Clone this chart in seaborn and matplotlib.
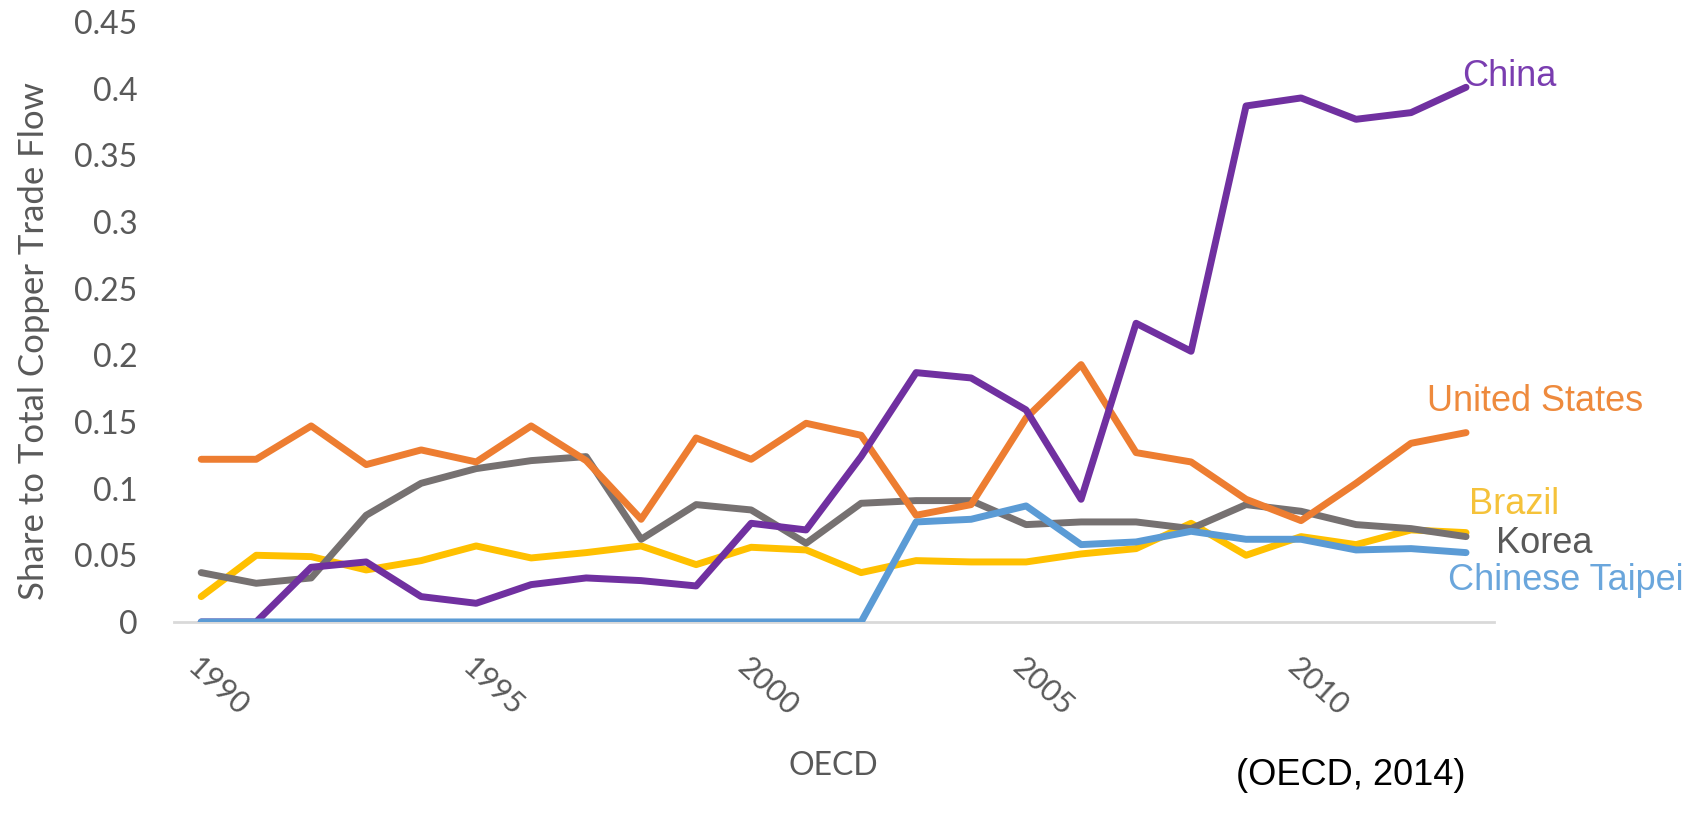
import pandas as pd
import matplotlib
matplotlib.use('Agg')
import matplotlib.pyplot as plt
import seaborn as sns

# values
years = list(range(1990, 2014))
china = [0.0, 0.0, 0.041, 0.045, 0.019, 0.014, 0.028, 0.033, 0.031, 0.027, 0.074, 0.069,
         0.124, 0.187, 0.183, 0.159, 0.092, 0.224, 0.203, 0.387, 0.393, 0.377, 0.382, 0.401]
united_states = [0.122, 0.122, 0.147, 0.118, 0.129, 0.120, 0.147, 0.121, 0.077, 0.138, 0.122, 0.149,
                 0.140, 0.080, 0.088, 0.153, 0.193, 0.127, 0.120, 0.092, 0.076, 0.104, 0.134, 0.142]
brazil = [0.019, 0.050, 0.049, 0.039, 0.046, 0.057, 0.048, 0.052, 0.057, 0.043, 0.056, 0.054,
          0.037, 0.046, 0.045, 0.045, 0.051, 0.055, 0.074, 0.050, 0.064, 0.058, 0.069, 0.067]
korea = [0.037, 0.029, 0.033, 0.080, 0.104, 0.115, 0.121, 0.124, 0.062, 0.088, 0.084, 0.059,
         0.089, 0.091, 0.091, 0.073, 0.075, 0.075, 0.070, 0.088, 0.083, 0.073, 0.070, 0.064]
chinese_taipei = [0.0, 0.0, 0.0, 0.0, 0.0, 0.0, 0.0, 0.0, 0.0, 0.0, 0.0, 0.0,
                  0.0, 0.075, 0.077, 0.087, 0.058, 0.060, 0.068, 0.062, 0.062, 0.054, 0.055, 0.052]

countries = ['Brazil', 'Korea', 'United States', 'China', 'Chinese Taipei']
series = {'China': china, 'United States': united_states, 'Brazil': brazil,
          'Korea': korea, 'Chinese Taipei': chinese_taipei}
line_colors = {'China': '#7030A0', 'United States': '#ED7D31', 'Brazil': '#FFC000',
               'Korea': '#767171', 'Chinese Taipei': '#5B9BD5'}
label_colors = {'China': '#7A3DB0', 'United States': '#EE8A3D', 'Brazil': '#F5C23A',
                'Korea': '#595959', 'Chinese Taipei': '#6AA6DC'}
# label anchor (year, value) for the end-of-line names
label_pos = {'China': (2012.92, 0.409), 'United States': (2012.29, 0.165),
             'Brazil': (2013.06, 0.088), 'Korea': (2013.55, 0.059),
             'Chinese Taipei': (2012.67, 0.031)}

rows = []
for c in countries:
    for y, v in zip(years, series[c]):
        rows.append({'Year': y, 'Share': v, 'Country': c})
df = pd.DataFrame(rows)

sns.set_style('white')
plt.rcParams['font.family'] = ['Lato', 'DejaVu Sans']

fig = plt.figure(figsize=(17.03, 8.13), dpi=100)
ax = fig.add_axes([0.102, 0.235, 0.775, 0.738])

sns.lineplot(data=df, x='Year', y='Share', hue='Country', hue_order=countries,
             palette=line_colors, linewidth=5, legend=False, ax=ax)

ax.set_xlim(1989.5, 2013.5)
ax.set_ylim(0, 0.45)
ax.set_yticks([0, 0.05, 0.1, 0.15, 0.2, 0.25, 0.3, 0.35, 0.4, 0.45])
ax.set_yticklabels(['0', '0.05', '0.1', '0.15', '0.2', '0.25', '0.3', '0.35', '0.4', '0.45'])
ax.set_xticks([1990, 1995, 2000, 2005, 2010])
ax.tick_params(axis='y', length=0, pad=26, labelsize=23, labelcolor='#595959')
ax.tick_params(axis='x', length=0, pad=22, labelsize=22, labelcolor='#595959')
for lab in ax.get_xticklabels():
    lab.set_rotation(-42)
    lab.set_ha('left')
    lab.set_va('top')
    lab.set_rotation_mode('anchor')

for s in ['top', 'right', 'left']:
    ax.spines[s].set_visible(False)
ax.spines['bottom'].set_color('#D9D9D9')
ax.spines['bottom'].set_linewidth(2)
ax.spines['bottom'].set_zorder(0)

ax.set_ylabel('Share to Total Copper Trade Flow', fontsize=25, color='#595959')
ax.yaxis.set_label_coords(-0.094, 0.468)
ax.set_xlabel('OECD', fontsize=23, color='#595959')
ax.xaxis.set_label_coords(0.5, -0.215)

for c in countries:
    x, y = label_pos[c]
    ax.text(x, y, c, color=label_colors[c], fontsize=26, ha='left', va='center',
            family='Liberation Sans', clip_on=False)

fig.text(0.726, 0.025, '(OECD, 2014)', fontsize=26, color='black',
         family='Liberation Sans', ha='left', va='bottom')

fig.savefig('out.png', dpi=100)
